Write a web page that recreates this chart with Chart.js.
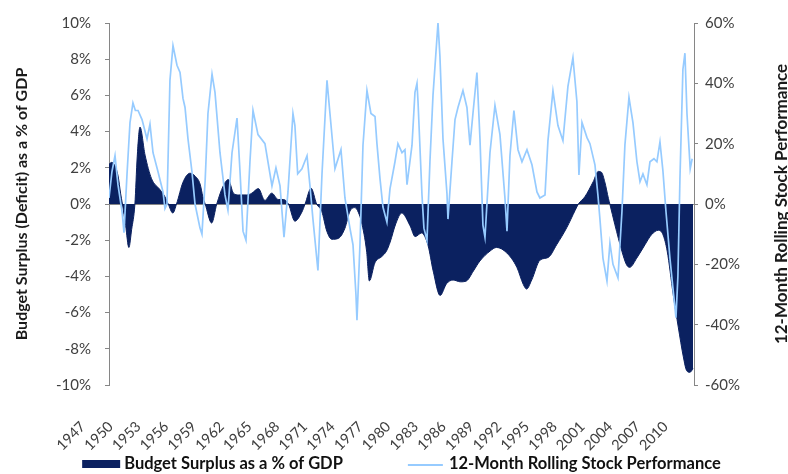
<!DOCTYPE html>
<html>
<head>
<meta charset="utf-8">
<script src="https://cdn.jsdelivr.net/npm/chart.js@4.4.1/dist/chart.umd.min.js"></script>
<style>
  body { margin: 0; background: #fff; }
</style>
</head>
<body>
<canvas id="surplusVsStocks" width="788" height="474"></canvas>
<script>
// x-axis labels, one every 3 years
const tickYears = [1947, 1950, 1953, 1956, 1959, 1962, 1965, 1968, 1971, 1974, 1977,
                   1980, 1983, 1986, 1989, 1992, 1995, 1998, 2001, 2004, 2007, 2010];

// budget surplus (deficit) as % of GDP
const budgetYears = [1947.0, 1947.3, 1947.65, 1948.0, 1948.25, 1948.45, 1948.8, 1949.15, 1949.45, 1949.8,
  1950.05, 1950.35, 1950.9, 1951.6, 1952.5, 1953.05, 1953.4, 1953.9, 1954.3, 1955.0,
  1955.75, 1956.3, 1956.85, 1957.15, 1957.4, 1958.1, 1958.65, 1959.35, 1959.9, 1960.45,
  1961.0, 1961.9, 1962.45, 1963.15, 1963.85, 1964.6, 1965.3, 1965.85, 1966.4, 1967.1,
  1967.85, 1968.2, 1968.85, 1969.45, 1970.0, 1970.55, 1971.1, 1971.8, 1972.5, 1973.05,
  1973.6, 1973.95, 1974.3, 1974.85, 1975.15, 1975.75, 1976.5, 1977.0, 1977.4, 1978.0,
  1978.65, 1979.55, 1980.1, 1980.8, 1981.5, 1982.05, 1982.8, 1983.5, 1984.2, 1985.0,
  1985.65, 1986.4, 1987.1, 1988.2, 1988.9, 1990.0, 1991.1, 1991.8, 1992.15, 1992.7,
  1993.6, 1994.5, 1995.4, 1996.5, 1997.4, 1997.75, 1998.45, 1999.35, 1999.9, 2000.25,
  2000.6, 2001.0, 2001.15, 2001.7, 2002.45, 2002.95, 2003.3, 2004.05, 2004.95, 2005.65,
  2006.4, 2006.9, 2007.35, 2008.0, 2008.55, 2009.1, 2009.45, 2009.8, 2010.15];
const budgetPct = [2.2, 2.3, 2.1, 1.5, 0.6, 0, -1.2, -2.4, -1.4, 0,
  2.6, 4.25, 2.7, 1.4, 0.8, 0.4, 0, -0.5, 0, 1.2,
  1.7, 1.55, 1.1, 0.4, 0, -1.05, 0, 1.0, 1.35, 0.6,
  0.5, 0.5, 0.6, 0.85, 0.2, 0.6, 0.25, 0.25, 0, -0.95,
  -0.45, 0, 0.87, 0, -0.4, -1.5, -1.95, -1.9, -1.35, -0.4,
  -0.2, -0.45, -1.0, -2.6, -4.25, -3.25, -2.9, -2.6, -2.1, -1.1,
  -0.5, -1.2, -1.8, -1.6, -2.3, -3.7, -5.05, -4.4, -4.2, -4.3,
  -4.25, -3.7, -3.15, -2.6, -2.4, -2.7, -3.5, -4.45, -4.7, -4.2,
  -3.1, -2.95, -2.25, -1.3, -0.35, 0, 0.4, 1.23, 1.8, 1.75,
  1.23, 0.3, 0, -1.15, -2.6, -3.35, -3.5, -3.0, -2.25, -1.7,
  -1.45, -1.7, -2.6, -5.0, -6.8, -8.45, -9.2, -9.3, -9.1];

// 12-month rolling stock performance, %
const stockYears = [1947.0, 1947.32, 1947.65, 1947.97, 1948.41, 1948.62, 1948.95, 1949.27, 1949.59, 1949.85,
  1950.14, 1950.57, 1951.11, 1951.43, 1951.76, 1952.3, 1952.84, 1953.05, 1953.27, 1953.59,
  1953.92, 1954.35, 1954.68, 1955.0, 1955.22, 1955.54, 1955.97, 1956.3, 1956.84, 1957.05,
  1957.4, 1957.7, 1958.14, 1958.46, 1959.0, 1959.54, 1959.86, 1960.3, 1960.84, 1961.16,
  1961.49, 1961.81, 1962.24, 1962.57, 1963.11, 1963.86, 1964.62, 1965.05, 1965.49, 1965.92,
  1966.35, 1966.89, 1967.1, 1967.4, 1967.86, 1968.41, 1968.73, 1969.05, 1969.59, 1970.03,
  1970.57, 1970.89, 1971.43, 1972.08, 1972.51, 1973.05, 1973.38, 1973.7, 1973.81, 1974.14,
  1974.46, 1974.89, 1975.32, 1975.76, 1975.97, 1976.3, 1976.62, 1977.05, 1977.38, 1977.92,
  1978.24, 1978.68, 1979.0, 1979.22, 1979.76, 1980.08, 1980.3, 1980.41, 1980.84, 1981.05,
  1981.38, 1981.7, 1982.03, 1982.57, 1982.78, 1983.11, 1983.54, 1983.65, 1984.08, 1984.41,
  1984.73, 1985.27, 1985.7, 1986.03, 1986.35, 1986.78, 1987.11, 1987.43, 1987.65, 1988.19,
  1988.73, 1989.27, 1989.81, 1990.03, 1990.35, 1990.78, 1991.22, 1991.65, 1992.19, 1992.73,
  1993.27, 1993.59, 1994.14, 1994.46, 1995.0, 1995.54, 1996.08, 1996.62, 1997.16, 1997.59,
  1997.81, 1998.14, 1998.68, 1999.0, 1999.54, 1999.86, 2000.08, 2000.41, 2000.84, 2001.16,
  2001.49, 2002.03, 2002.46, 2002.78, 2003.22, 2003.65, 2004.08, 2004.41, 2004.73, 2005.16,
  2005.49, 2005.92, 2006.24, 2006.57, 2006.89, 2007.22, 2007.65, 2007.97, 2008.3, 2008.51,
  2008.73, 2009.05, 2009.27, 2009.49, 2009.84, 2010.05];
const stockPct = [2, 10.7, 16, 6.4, -2.5, -9.5, 10, 27, 33.5, 31,
  31, 28, 21.6, 26.5, 17, 10.7, 4, -1.5, 0, 41,
  52.5, 46, 43.6, 35, 32, 21.6, 10.7, 0, -8, -10,
  8, 30, 43, 37, 17, 3, -2, 17, 28.5, 11,
  -9, -12, 14, 31, 23, 20, 6, 12, 6, -11,
  4, 30, 26, 10, 11.7, 16, 6, -5, -22, 10,
  41, 30, 11.7, 18, 2, -8, -13.5, -30, -38.5, -13,
  19.5, 37.6, 30, 29, 20, 8.4, -1, -6, 5, 14,
  20, 17, 18, 6.4, 19.5, 37, 40, 34, 3, -8,
  -12, 14, 36, 60, 49, 21.6, 3.5, -5, 14, 28,
  32, 37.6, 32, 19.5, 30, 43.6, 21.6, -7, -11, 17,
  32.7, 23, 2, -9, 16, 31, 18, 14, 18, 13,
  4, 2, 3, 21, 37.5, 26, 21, 39, 48.5, 34,
  9.6, 27, 22, 20, 13, 3, -5, -18, -25.5, -13,
  -20, -24.5, -2.5, 19.5, 35.3, 27, 14, 7.4, 10, 6.4,
  14, 15, 14, 20.6, 11, -2.5, -18, -27.8, -37.7, -24,
  8.4, 44.6, 50, 30, 11.7, 15];

const navy = "#0b2160";
const lightBlue = "#96cbff";
const axisGrey = "#868686";
const fontFamily = "Lato, 'Open Sans', sans-serif";

const toPoints = (xs, ys) => xs.map((x, i) => ({ x: x, y: ys[i] }));

// Excel style axis titles: both read bottom to top
const sideTitles = {
    id: "sideTitles",
    afterDraw(chart) {
        const ctx = chart.ctx;
        const area = chart.chartArea;
        const midY = (area.top + area.bottom) / 2;
        const titles = [
            [chart.options.scales.y.title.text, 22, 16],
            [chart.options.scales.y2.title.text, 782, 17]
        ];
        ctx.save();
        ctx.fillStyle = "#1a1a1a";
        ctx.textAlign = "center";
        ctx.textBaseline = "middle";
        titles.forEach(([text, x, size]) => {
            ctx.save();
            ctx.font = "bold " + size + "px " + fontFamily;
            ctx.translate(x, midY);
            ctx.rotate(-Math.PI / 2);
            ctx.fillText(text, 0, 0);
            ctx.restore();
        });
        ctx.restore();
    }
};

// legend along the bottom, wide gap between the two entries
const bottomLegend = {
    id: "bottomLegend",
    afterDraw(chart) {
        const ctx = chart.ctx;
        const area = chart.chartArea;
        const sets = chart.data.datasets;
        const symW = [38, 35], gapText = [4, 6], gapItems = 65, y = 464;
        ctx.save();
        ctx.font = "bold 16.5px " + fontFamily;
        ctx.textBaseline = "middle";
        ctx.textAlign = "left";
        const widths = sets.map((ds, i) => symW[i] + gapText[i] + ctx.measureText(ds.label).width);
        const total = widths[0] + gapItems + widths[1];
        let x = (area.left + area.right) / 2 - total / 2;
        sets.forEach((ds, i) => {
            if (ds.fill) {
                ctx.fillStyle = ds.backgroundColor;
                ctx.fillRect(x, y - 4, symW[i], 8);
            } else {
                ctx.strokeStyle = ds.borderColor;
                ctx.lineWidth = 2;
                ctx.beginPath();
                ctx.moveTo(x, y + 1);
                ctx.lineTo(x + symW[i], y + 1);
                ctx.stroke();
            }
            ctx.fillStyle = "#111";
            ctx.fillText(ds.label, x + symW[i] + gapText[i], y);
            x += widths[i] + gapItems;
        });
        ctx.restore();
    }
};

const chart = new Chart(document.getElementById("surplusVsStocks"), {
    type: "line",
    data: {
        datasets: [
            {
                label: "Budget Surplus as a % of GDP",
                data: toPoints(budgetYears, budgetPct),
                yAxisID: "y",
                fill: "origin",
                backgroundColor: navy,
                borderColor: navy,
                borderWidth: 1,
                pointRadius: 0,
                cubicInterpolationMode: "monotone",
                order: 1
            },
            {
                label: "12-Month Rolling Stock Performance",
                data: toPoints(stockYears, stockPct),
                yAxisID: "y2",
                fill: false,
                borderColor: lightBlue,
                backgroundColor: lightBlue,
                borderWidth: 1.7,
                pointRadius: 0,
                tension: 0,
                order: 0
            }
        ]
    },
    options: {
        responsive: false,
        animation: false,
        layout: { padding: { top: 20, left: 0, right: 0, bottom: 0 } },
        plugins: {
            legend: { display: false },
            tooltip: { enabled: false }
        },
        scales: {
            x: {
                type: "linear",
                min: 1947,
                max: 2010.25,
                afterBuildTicks: (scale) => { scale.ticks = tickYears.map(v => ({ value: v })); },
                afterFit: (scale) => { scale.height = 89; },
                grid: { display: false },
                border: { display: false },
                ticks: {
                    autoSkip: false,
                    minRotation: 45,
                    maxRotation: 45,
                    padding: 25,
                    labelOffset: -26,
                    color: "#404040",
                    font: { family: fontFamily, size: 14.5 },
                    callback: (v) => String(v)
                }
            },
            y: {
                position: "left",
                min: -10,
                max: 10,
                title: { display: false, text: "Budget Surplus (Deficit) as a % of GDP" },
                afterFit: (scale) => { scale.width = 109; },
                border: { display: true, color: axisGrey },
                grid: {
                    drawOnChartArea: true,
                    color: (c) => (c.tick && c.tick.value === 0 ? axisGrey : "rgba(0,0,0,0)"),
                    tickColor: axisGrey,
                    tickLength: 4
                },
                ticks: {
                    stepSize: 2,
                    padding: 14,
                    color: "#404040",
                    font: { family: fontFamily, size: 15 },
                    callback: (v) => v + "%"
                }
            },
            y2: {
                position: "right",
                min: -60,
                max: 60,
                title: { display: false, text: "12-Month Rolling Stock Performance" },
                afterFit: (scale) => { scale.width = 94; },
                border: { display: true, color: axisGrey },
                grid: {
                    drawOnChartArea: false,
                    tickColor: axisGrey,
                    tickLength: 4
                },
                ticks: {
                    stepSize: 20,
                    padding: 7,
                    color: "#404040",
                    font: { family: fontFamily, size: 15 },
                    callback: (v) => v + "%"
                }
            }
        }
    },
    plugins: [sideTitles, bottomLegend]
});
</script>
</body>
</html>
